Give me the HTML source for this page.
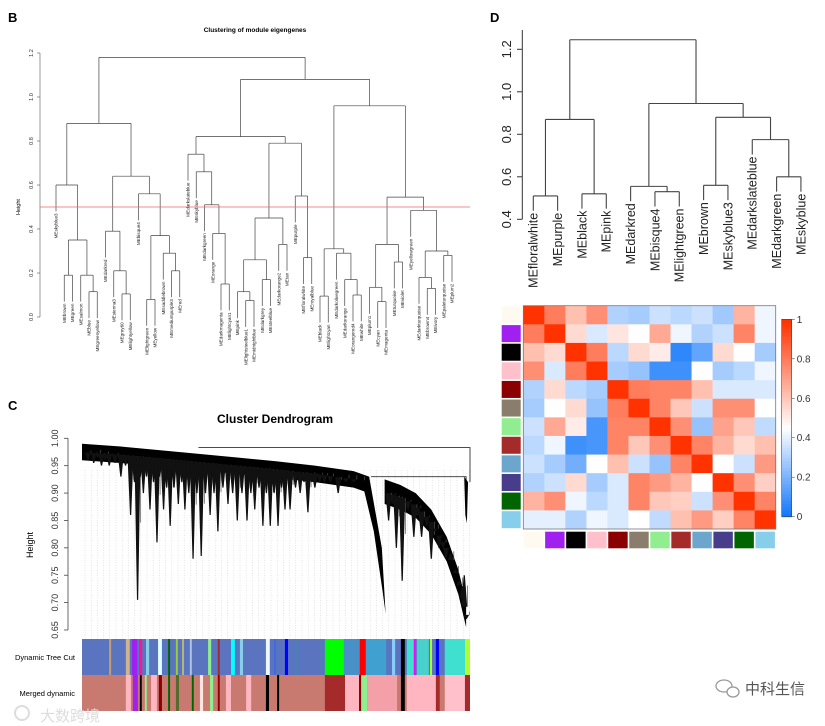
<!DOCTYPE html>
<html><head><meta charset="utf-8"><style>
html,body{margin:0;padding:0;background:#fff;}
svg{display:block;font-family:"Liberation Sans","Noto Sans CJK SC",sans-serif;}
</style></head><body>
<svg id="fig" width="825" height="726" viewBox="0 0 825 726" xmlns="http://www.w3.org/2000/svg">
<rect width="825" height="726" fill="#fff"/>
<text x="8" y="22" font-size="13" font-weight="bold">B</text>
<text x="8" y="410" font-size="13" font-weight="bold">C</text>
<text x="490" y="22" font-size="13" font-weight="bold">D</text>
<text x="255" y="32" font-size="6.5" font-weight="bold" text-anchor="middle">Clustering of module eigengenes</text>
<text transform="translate(20,207) rotate(-90)" font-size="5.5" text-anchor="middle">Height</text>
<g id="gB"></g>
<text x="275" y="423" font-size="12" font-weight="bold" text-anchor="middle">Cluster Dendrogram</text>
<text transform="translate(33,545) rotate(-90)" font-size="9" text-anchor="middle">Height</text>
<g id="gC"></g>
<text x="75" y="660" font-size="7.5" text-anchor="end">Dynamic Tree Cut</text>
<text x="75" y="696" font-size="7.5" text-anchor="end">Merged dynamic</text>
<g id="gD"></g>
<g id="gH"></g>
<text x="40" y="721" font-size="15" fill="#ddd">大数跨境</text>
<circle cx="22" cy="713" r="7" fill="none" stroke="#ddd" stroke-width="2"/>
<g><ellipse cx="724" cy="686" rx="8" ry="6" fill="none" stroke="#999" stroke-width="1.3"/><ellipse cx="733" cy="692" rx="6" ry="5" fill="#fff" stroke="#999" stroke-width="1.3"/></g>
<text x="745" y="694" font-size="15" fill="#555">中科生信</text>
</svg>
<script>
const NS="http://www.w3.org/2000/svg";
function mk(parent,tag,attrs){const e=document.createElementNS(NS,tag);for(const k in attrs)e.setAttribute(k,attrs[k]);parent.appendChild(e);return e;}

/* ---------- Panel B data ---------- */
const bLeaves=["MEskyblue3","MEbrown","MEgreen","MEsalmon","MEblue","MEgreenyellow","MEdarkred","MEsienna3","MEgrey60","MElightyellow","MEbisque4","MElightgreen","MEyellow","MEsaddlebrown","MEmediumpurple3","MEred","MEdarkslateblue","MEskyblue","MEdarkgreen","MEorange","MEdarkmagenta","MElightcyan1","MEpink","MElightsteelblue1","MEmidnightblue","MEdarkgrey","MEsteelblue","MEdarkorange2","MEtan","MEpurple","MEfloralwhite","MEroyalblue","MEblack","MElightcyan","MEdarkolivegreen","MEdarkorange","MEorangered4","MEwhite","MEplum1","MEcyan","MEmagenta","MEturquoise","MEviolet","MEyellowgreen","MEdarkturquoise","MEbrown4","MEivory","MEpaleturquoise","MEplum2"];
const bTree=[1.18,
 [0.88,[0.60,0,[0.35,[0.19,1,2],[0.19,3,[0.115,4,5]]]],
  [0.64,[0.39,6,[0.21,7,[0.105,8,9]]],[0.56,10,[0.37,[0.08,11,12],[0.29,13,[0.21,14,15]]]]]],
 [1.08,
  [0.82,[0.74,16,[0.66,17,[0.51,18,[0.38,19,[0.15,20,21]]]]],
   [0.79,[0.45,[0.26,[0.115,22,[0.075,23,24]],[0.17,25,26]],[0.33,27,28]],[0.55,29,[0.27,30,31]]]],
  [0.96,[0.31,[0.095,32,33],[0.29,34,[0.17,35,[0.10,36,37]]]],
   [0.545,[0.33,[0.135,38,[0.07,39,40]],[0.25,41,42]],[0.485,43,[0.30,[0.18,44,[0.13,45,46]],[0.28,47,48]]]]]]];
const bTicks=[0,0.2,0.4,0.6,0.8,1.0,1.2];
const bCut=0.5;

/* ---------- Panel D data ---------- */
const dLeaves=["MEfloralwhite","MEpurple","MEblack","MEpink","MEdarkred","MEbisque4","MElightgreen","MEbrown","MEskyblue3","MEdarkslateblue","MEdarkgreen","MEskyblue"];
const dTree=[1.245,[0.87,[0.51,0,1],[0.52,2,3]],[0.945,[0.555,4,[0.53,5,6]],[0.88,[0.56,7,8],[0.775,9,[0.60,10,11]]]]];
const dTicks=[0.4,0.6,0.8,1.0,1.2];
const modColors=["#FFFAF0","#A020F0","#000000","#FFC0CB","#8B0000","#8B7D6B","#90EE90","#A52A2A","#6CA6CD","#483D8B","#006400","#87CEEB"];
const corr=[
[1,.8,.62,.75,.3,.28,.35,.32,.35,.27,.65,.42],
[.8,1,.55,.38,.52,.45,.68,.42,.3,.35,.78,.42],
[.62,.55,1,.8,.32,.55,.5,.05,.15,.55,.45,.28],
[.75,.38,.8,1,.28,.25,.08,.08,.45,.28,.32,.42],
[.3,.55,.32,.28,1,.8,.78,.78,.62,.38,.38,.38],
[.28,.45,.55,.25,.8,1,.78,.6,.35,.75,.75,.45],
[.35,.68,.5,.1,.78,.78,1,.75,.25,.7,.6,.33],
[.32,.42,.08,.1,.78,.6,.75,1,.78,.65,.55,.62],
[.35,.28,.18,.45,.62,.35,.25,.78,1,.45,.35,.72],
[.3,.35,.55,.28,.38,.78,.72,.65,.45,1,.75,.58],
[.65,.75,.42,.32,.38,.78,.6,.58,.35,.75,1,.78],
[.4,.4,.3,.42,.38,.45,.33,.62,.72,.58,.78,1]];
const cbTicks=[0,0.2,0.4,0.6,0.8,1];

/* ---------- Panel C data ---------- */
const cTicks=[0.65,0.70,0.75,0.80,0.85,0.90,0.95,1.00];
const cLeftEnvelope=[[0,0.99],[0.1,0.985],[0.25,0.975],[0.4,0.965],[0.5,0.958],[0.6,0.95],[0.7,0.94],[0.74,0.93]];
const cLeftSpikes=[[0.015,0.96],[0.03,0.955],[0.04,0.965],[0.05,0.95],[0.06,0.96],[0.07,0.95],[0.085,0.955],[0.1,0.93],[0.112,0.95],[0.125,0.86],[0.135,0.92],[0.143,0.705],[0.15,0.93],[0.158,0.90],[0.166,0.93],[0.175,0.87],[0.184,0.92],[0.193,0.81],[0.2,0.93],[0.21,0.87],[0.218,0.91],[0.227,0.84],[0.237,0.91],[0.248,0.88],[0.257,0.92],[0.265,0.87],[0.275,0.9],[0.286,0.78],[0.296,0.9],[0.307,0.785],[0.318,0.9],[0.33,0.86],[0.34,0.9],[0.35,0.83],[0.363,0.91],[0.376,0.88],[0.388,0.9],[0.4,0.85],[0.412,0.9],[0.425,0.85],[0.435,0.9],[0.445,0.87],[0.456,0.91],[0.466,0.84],[0.475,0.9],[0.485,0.84],[0.495,0.9],[0.505,0.84],[0.514,0.91],[0.523,0.87],[0.536,0.87],[0.55,0.91],[0.562,0.90],[0.572,0.92],[0.582,0.865],[0.592,0.92],[0.6,0.91],[0.612,0.92],[0.625,0.92],[0.64,0.92],[0.66,0.9],[0.68,0.92],[0.7,0.92],[0.72,0.92]];
const cRightEnvelope=[[0.78,0.925],[0.82,0.915],[0.86,0.9],[0.9,0.87],[0.94,0.82],[0.97,0.76],[0.99,0.70]];
const cRightSpikes=[[0.79,0.85],[0.8,0.88],[0.81,0.80],[0.818,0.87],[0.825,0.74],[0.84,0.87],[0.855,0.82],[0.865,0.86],[0.875,0.82],[0.888,0.84],[0.9,0.78],[0.91,0.83],[0.92,0.80],[0.93,0.8],[0.938,0.78],[0.95,0.79],[0.962,0.76],[0.972,0.74],[0.98,0.73],[0.985,0.75],[0.99,0.67]];
const cBigSpike=[[0.74,0.93],[0.765,0.80],[0.78,0.68]];
const dynSegs=[[0.07,0.005,"#c8a070"],[0.113,0.01,"#d2b48c"],[0.129,0.013,"#a020f0"],[0.147,0.008,"#ff1493"],[0.165,0.008,"#87ceeb"],[0.196,0.01,"#e0ffff"],[0.222,0.005,"#006400"],[0.242,0.005,"#9acd32"],[0.258,0.005,"#bdb76b"],[0.278,0.005,"#b0c4de"],[0.325,0.008,"#90ee90"],[0.35,0.005,"#a52a2a"],[0.384,0.01,"#00ffff"],[0.407,0.008,"#87ceeb"],[0.474,0.01,"#f0f8ff"],[0.495,0.005,"#4169e1"],[0.523,0.008,"#0000ff"],[0.549,0.008,"#4682b4"],[0.626,0.049,"#00ff00"],[0.675,0.041,"#4a90c8"],[0.716,0.015,"#ff0000"],[0.732,0.052,"#40a0d0"],[0.799,0.008,"#87cefa"],[0.822,0.01,"#000000"],[0.837,0.021,"#40e0d0"],[0.855,0.005,"#ff00ff"],[0.863,0.031,"#48d1cc"],[0.897,0.005,"#adff2f"],[0.912,0.008,"#0000ff"],[0.935,0.052,"#40e0d0"],[0.987,0.013,"#adff2f"]];
const mrgSegs=[[0.113,0.013,"#ffb6c1"],[0.131,0.013,"#a020f0"],[0.149,0.005,"#000000"],[0.162,0.005,"#90ee90"],[0.178,0.015,"#ffb6c1"],[0.198,0.008,"#8b0000"],[0.222,0.005,"#006400"],[0.242,0.008,"#556b2f"],[0.283,0.005,"#006400"],[0.304,0.008,"#ffe4e1"],[0.33,0.008,"#90ee90"],[0.35,0.005,"#8b0000"],[0.371,0.013,"#ffb6c1"],[0.423,0.013,"#ffb6c1"],[0.474,0.008,"#000000"],[0.503,0.005,"#000000"],[0.626,0.052,"#a52a2a"],[0.678,0.036,"#ffb6c1"],[0.714,0.005,"#8b0000"],[0.72,0.015,"#90ee90"],[0.735,0.077,"#f4a0a8"],[0.822,0.01,"#000000"],[0.837,0.077,"#ffb6c1"],[0.912,0.01,"#a52a2a"],[0.935,0.052,"#ffc0cb"],[0.987,0.013,"#a52a2a"]];

/* ---------- generic dendrogram ---------- */
function drawTree(g,tree,leafX,yOf,hang,names,fs,sw,prefix){
  function rec(n){
    if(typeof n==="number") return {x:leafX(n),h:null,leaf:n};
    const a=rec(n[1]),b=rec(n[2]),h=n[0],y=yOf(h);
    [a,b].forEach(c=>{
      const yb=c.h===null?yOf(h-hang):yOf(c.h);
      const l=mk(g,"line",{x1:c.x,y1:y,x2:c.x,y2:yb,stroke:"#444","stroke-width":sw});
      
      
      if(c.h===null){
        const t=mk(g,"text",{transform:`translate(${c.x+fs*0.35},${yb+2}) rotate(-90)`,"font-size":fs,"text-anchor":"end",fill:"#222"});
        t.textContent=names[c.leaf];
        
        
      }
    });
    const l=mk(g,"line",{x1:a.x,y1:y,x2:b.x,y2:y,stroke:"#444","stroke-width":sw});
    
    
    return {x:(a.x+b.x)/2,h:h};
  }
  return rec(tree);
}

/* ---------- Panel B ---------- */
(function(){
  const g=document.getElementById("gB");
  const yB=h=>317-h*220, xB=i=>56+i*8.25;
  const ax=mk(g,"line",{x1:40,y1:yB(0),x2:40,y2:yB(1.2),stroke:"#555","stroke-width":0.6});
  
  bTicks.forEach(v=>{
    const l=mk(g,"line",{x1:37,y1:yB(v),x2:40,y2:yB(v),stroke:"#555","stroke-width":0.6});
    
    const t=mk(g,"text",{transform:`translate(33,${yB(v)}) rotate(-90)`,"font-size":5.5,"text-anchor":"middle",fill:"#333"});
    t.textContent=v.toFixed(1);
    
  });
  drawTree(g,bTree,xB,yB,0.12,bLeaves,4.6,0.7,'panel-b');
  const cl=mk(g,"line",{x1:40,y1:yB(bCut),x2:470,y2:yB(bCut),stroke:"#e66","stroke-width":0.8});
  
})();

/* ---------- Panel D dendrogram ---------- */
(function(){
  const g=document.getElementById("gD");
  const yD=h=>219.3-(h-0.4)*212.5, xD=i=>533.3+i*24.33;
  const ax=mk(g,"line",{x1:522.3,y1:yD(0.4),x2:522.3,y2:30,stroke:"#333","stroke-width":1});
  
  dTicks.forEach(v=>{
    const l=mk(g,"line",{x1:517,y1:yD(v),x2:522.3,y2:yD(v),stroke:"#333","stroke-width":1});
    
    const t=mk(g,"text",{transform:`translate(511,${yD(v)}) rotate(-90)`,"font-size":13,"text-anchor":"middle",fill:"#222"});
    t.textContent=v.toFixed(1);
    
  });
  drawTree(g,dTree,xD,yD,0.07,dLeaves,12.5,1.1,'panel-d');
})();

/* ---------- Heatmap ---------- */
function cmap(v){
  const lo=[20,120,250],mid=[255,255,255],hi=[255,50,0],m=0.45;
  let a,b,t;
  if(v<m){a=lo;b=mid;t=v/m;}else{a=mid;b=hi;t=(v-m)/(1-m);}
  return `rgb(${a.map((c,i)=>Math.round(c+(b[i]-c)*t)).join(",")})`;
}
(function(){
  const g=document.getElementById("gH");
  const x0=523.3,y0=305.7,cw=(775.7-523.3)/12,ch=(529-305.7)/12;
  corr.forEach((row,i)=>row.forEach((v,j)=>{
    const r=mk(g,"rect",{x:x0+j*cw,y:y0+i*ch,width:cw+0.4,height:ch+0.4,fill:cmap(v)});
    
  }));
  const fr=mk(g,"rect",{x:x0,y:y0,width:775.7-x0,height:529-y0,fill:"none",stroke:"#777","stroke-width":0.8});
  
  modColors.forEach((c,i)=>{
    const r=mk(g,"rect",{x:501.7,y:y0+i*ch+0.8,width:19,height:ch-1.6,fill:c});
    
    const r2=mk(g,"rect",{x:x0+i*cw+0.8,y:531.7,width:cw-1.6,height:16.6,fill:c});
    
  });
  const cbx=781.7,cbw=10,cbt=319.3,cbb=516.7,N=60;
  for(let k=0;k<N;k++){
    const v=k/(N-1);
    const r=mk(g,"rect",{x:cbx,y:cbb-(k+1)*(cbb-cbt)/N,width:cbw,height:(cbb-cbt)/N+0.5,fill:cmap(v)});
    
  }
  const cf=mk(g,"rect",{x:cbx,y:cbt,width:cbw,height:cbb-cbt,fill:"none",stroke:"#444","stroke-width":0.6});
  
  cbTicks.forEach(v=>{
    const y=cbb-v*(cbb-cbt);
    const l=mk(g,"line",{x1:cbx+cbw,y1:y,x2:cbx+cbw+3,y2:y,stroke:"#444","stroke-width":0.6});
    
    const t=mk(g,"text",{x:cbx+cbw+5,y:y+3.5,"font-size":10,fill:"#333"});
    t.textContent=String(v);
    
  });
})();

/* ---------- Panel C ---------- */
(function(){
  const g=document.getElementById("gC");
  const L=82,R=470,W=R-L;
  const yC=h=>438.3+(1-h)*547.7, xC=f=>L+f*W;
  for(let x=L+3;x<R;x+=6.2){
    const l=mk(g,"line",{x1:x,y1:470,x2:x,y2:639,stroke:"#ccc","stroke-width":0.5,"stroke-dasharray":"1,1.5"});
    
  }
  const ax=mk(g,"line",{x1:68,y1:yC(0.65),x2:68,y2:yC(1),stroke:"#444","stroke-width":0.8});
  
  cTicks.forEach(v=>{
    const l=mk(g,"line",{x1:64,y1:yC(v),x2:68,y2:yC(v),stroke:"#444","stroke-width":0.8});
    
    const t=mk(g,"text",{transform:`translate(58,${yC(v)}) rotate(-90)`,"font-size":9,"text-anchor":"middle",fill:"#333"});
    t.textContent=v.toFixed(2);
    
  });
  function envAt(env,f){for(let i=1;i<env.length;i++){if(f<=env[i][0]){const a=env[i-1],b=env[i];return a[1]+(b[1]-a[1])*(f-a[0])/(b[0]-a[0]);}}return env[env.length-1][1];}
  function body(env,th,name){
    let pts=env.map(p=>`${xC(p[0])},${yC(p[1])}`);
    pts=pts.concat(env.slice().reverse().map(p=>`${xC(p[0])},${yC(p[1]-th)}`));
    const p=mk(g,"polygon",{points:pts.join(" "),fill:"#000"});
    
  }
  function spikes(env,arr,th){
    arr.forEach(s=>{
      const top=envAt(env,s[0])-th*0.5,x=xC(s[0]);
      const p=mk(g,"polygon",{points:`${x-3},${yC(top)} ${x+3},${yC(top)} ${x+0.7},${yC(s[1])} ${x-0.5},${yC(s[1])}`,fill:"#111"});
      
      const l=mk(g,"line",{x1:x+3.2,y1:yC(top),x2:x+3.2,y2:yC((top+s[1])/2+0.01),stroke:"#555","stroke-width":0.7});
      
    });
  }
  body(cLeftEnvelope,0.03,'left-cluster-body');
  spikes(cLeftEnvelope,cLeftSpikes,0.03);
  const bs=cBigSpike;
  const bp=mk(g,"polygon",{points:`${xC(bs[0][0])},${yC(bs[0][1])} ${xC(bs[1][0])+3},${yC(bs[1][1])} ${xC(bs[2][0])+1},${yC(bs[2][1])} ${xC(bs[2][0])-2},${yC(bs[2][1]+0.04)} ${xC(bs[1][0])-5},${yC(bs[1][1]+0.03)} ${xC(bs[0][0])-7},${yC(bs[0][1]-0.01)}`,fill:"#000"});
  
  body(cRightEnvelope,0.045,'right-cluster-body');
  spikes(cRightEnvelope,cRightSpikes,0.045);
  const m1=mk(g,"polyline",{points:`${xC(0.3)},${yC(0.983)} ${xC(1)},${yC(0.983)} ${xC(1)},${yC(0.92)}`,fill:"none",stroke:"#333","stroke-width":0.9});
  
  const m2=mk(g,"polyline",{points:`${xC(0.745)},${yC(0.93)} ${xC(0.99)},${yC(0.93)} ${xC(0.99)},${yC(0.91)}`,fill:"none",stroke:"#333","stroke-width":0.9});
  
  const sm=mk(g,"polygon",{points:`${xC(0.985)},${yC(0.93)} ${xC(0.995)},${yC(0.92)} ${xC(0.992)},${yC(0.845)} ${xC(0.988)},${yC(0.86)}`,fill:"#000"});
  
  function bar(segs,y,h,base,name){
    const b=mk(g,"rect",{x:L,y:y,width:W,height:h,fill:base});
    
    segs.forEach(s=>{
      const r=mk(g,"rect",{x:xC(s[0]),y:y,width:s[1]*W,height:h,fill:s[2]});
      
    });
  }
  bar(dynSegs,639,36,"#5a74c0",'dynamic-tree-cut-bar');
  bar(mrgSegs,675,36,"#c97a70",'merged-dynamic-bar');
})();
</script>
</body></html>
